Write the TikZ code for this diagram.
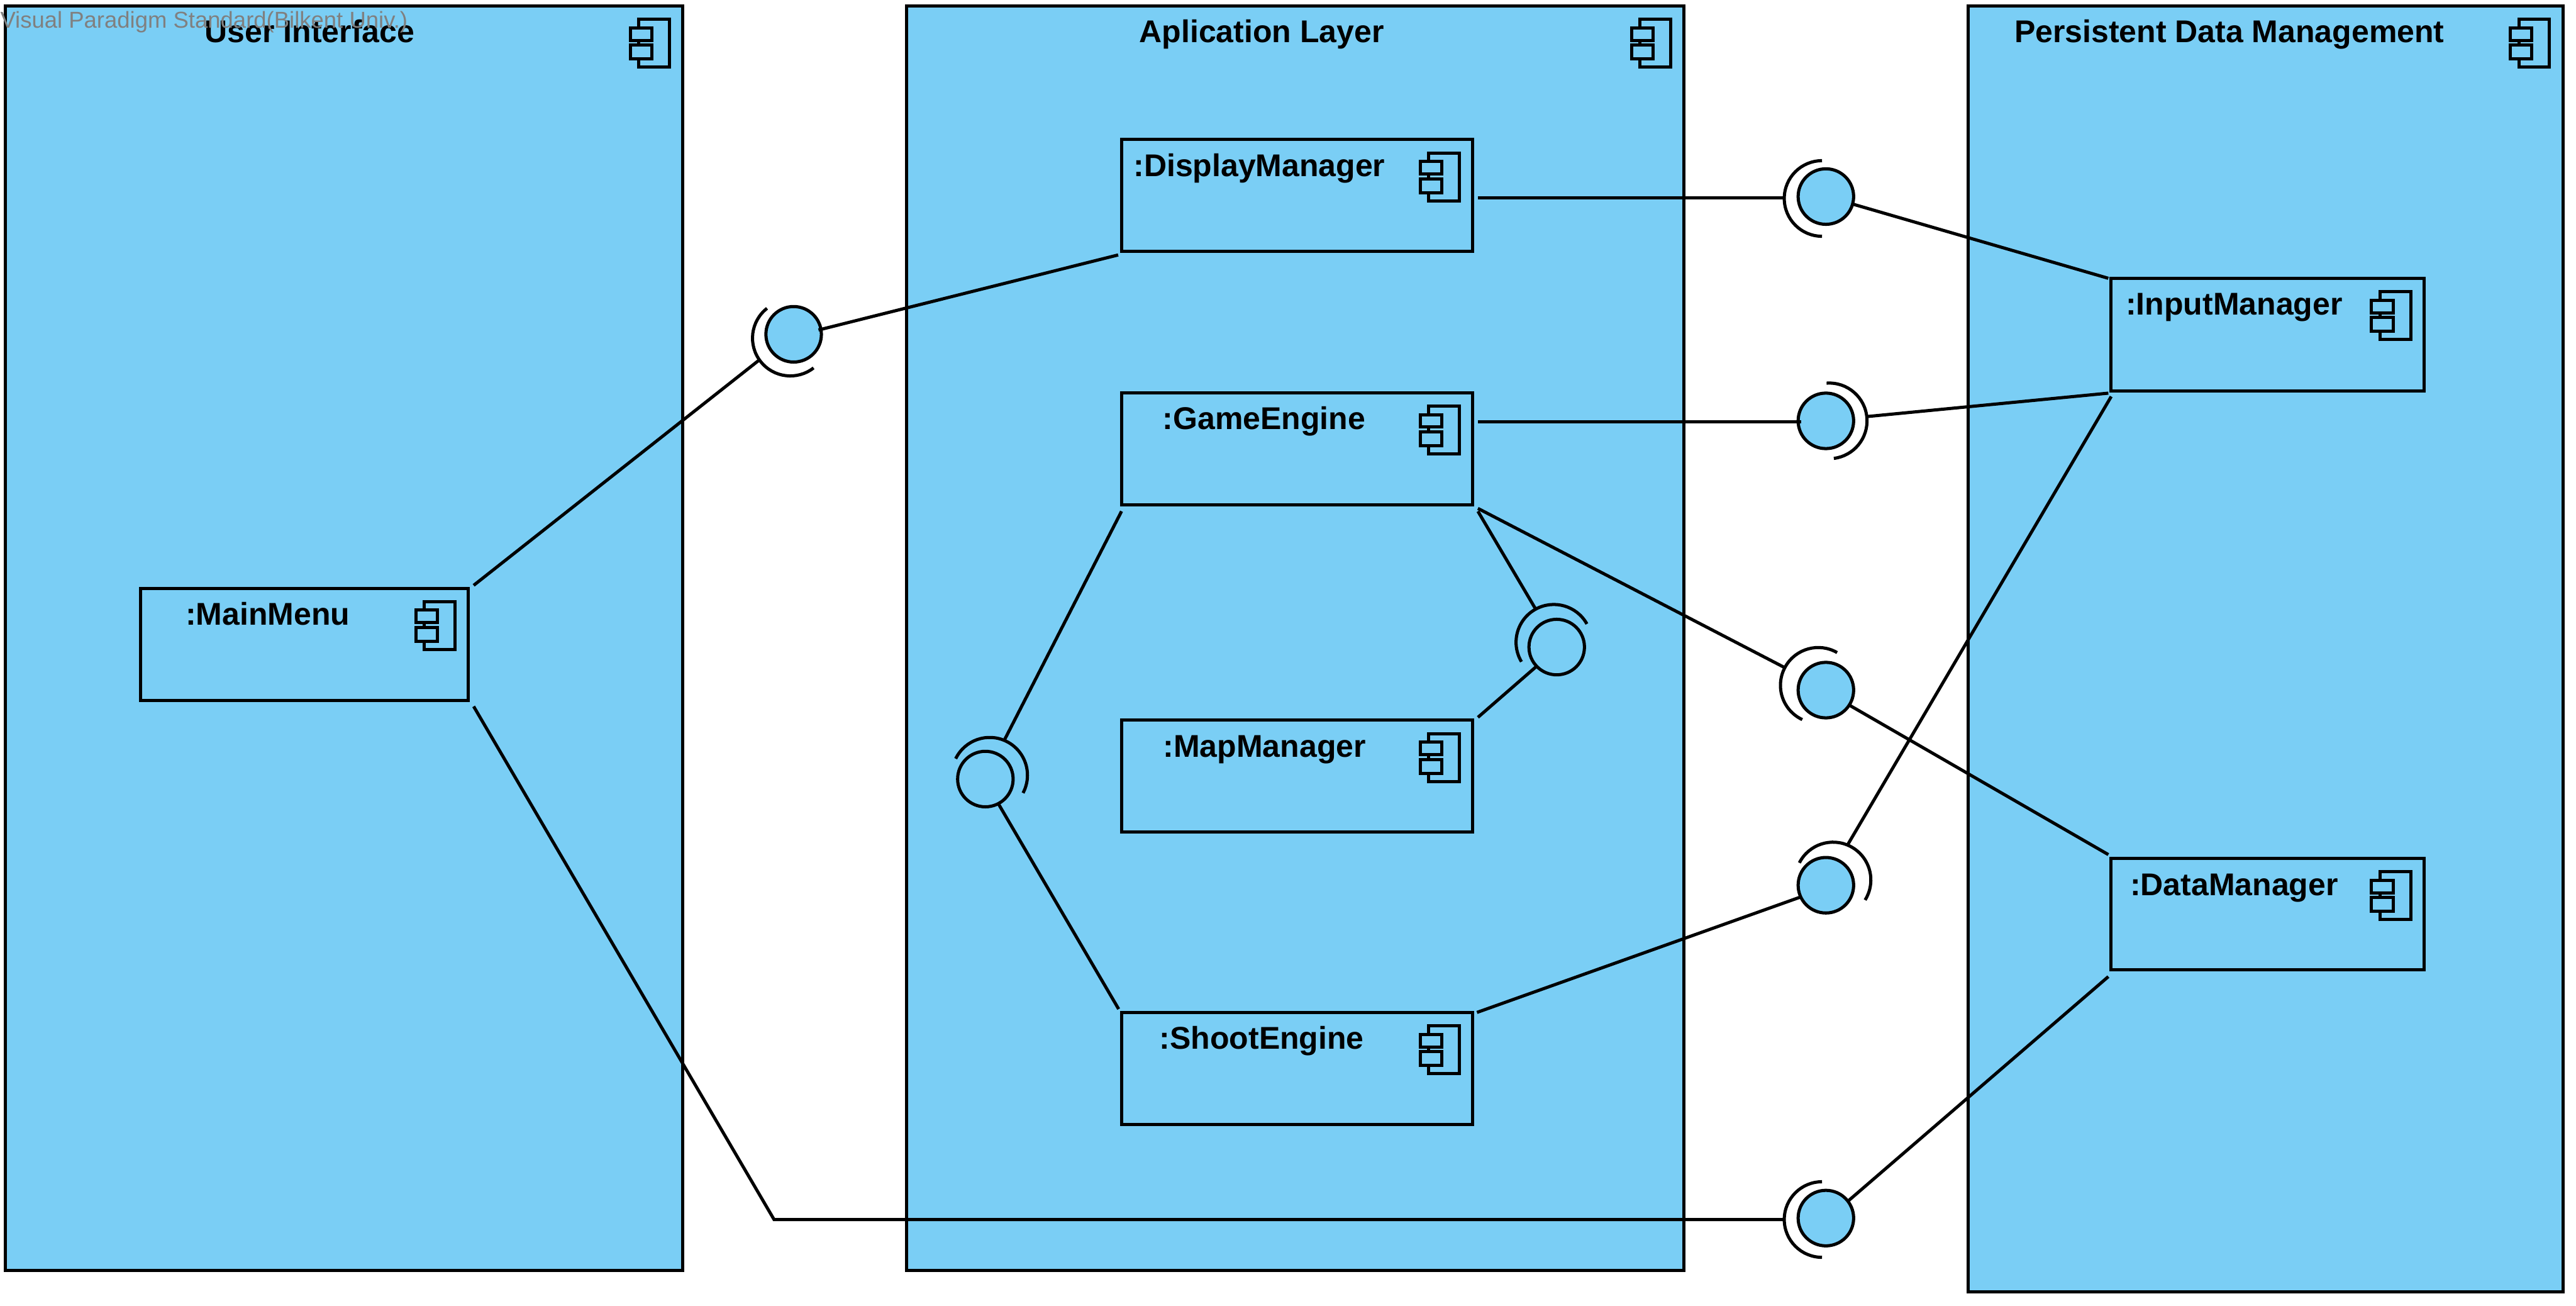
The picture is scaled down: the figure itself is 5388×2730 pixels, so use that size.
\documentclass[tikz,border=0pt]{standalone}
\usepackage{fontspec}
\setmainfont{Liberation Sans}
\definecolor{vpblue}{RGB}{122,206,245}
\definecolor{vpgray}{RGB}{128,128,128}
\tikzset{
  x=0.01cm,y=-0.01cm,
  ink/.style={draw=black,line width=0.066cm},
  compbox/.style={ink,fill=vpblue,rectangle,inner sep=0pt,outer sep=0pt},
  ball/.style={ink,circle,fill=vpblue,minimum size=1.16cm,inner sep=0pt,outer sep=0pt},
  conn/.style={ink,line cap=butt},
  captxt/.style={font=\fontsize{18.7}{22}\selectfont\bfseries,inner sep=0pt,anchor=base,text=black}
}
% component glyph, hung from a box's north east corner
\newcommand{\compicon}[1]{%
  \draw[ink] ([shift={(-92,28)}]#1.north east) rectangle ([shift={(-28,128)}]#1.north east);
  \draw[ink,fill=vpblue] ([shift={(-110,46)}]#1.north east) rectangle ([shift={(-65,72)}]#1.north east);
  \draw[ink,fill=vpblue] ([shift={(-110,82)}]#1.north east) rectangle ([shift={(-65,111)}]#1.north east);
}
% socket arc: name, centre x, centre y, start angle, end angle
\newcommand{\socket}[5]{%
  \coordinate (#1) at (#2,#3);
  \draw[ink] (#1) ++(#4:0.79cm) arc[start angle=#4,end angle=#5,radius=0.79cm];
}
\begin{document}
\begin{tikzpicture}
\useasboundingbox (0,0) rectangle (5388,2730);
% containers
\node[compbox,minimum width=14.16cm,minimum height=26.43cm] (ui) at (720,1334.5) {};
\node[compbox,minimum width=16.25cm,minimum height=26.43cm] (app) at (2709.5,1334.5) {};
\node[compbox,minimum width=12.43cm,minimum height=26.87cm] (pdm) at (4738.5,1356.5) {};
\compicon{ui}\compicon{app}\compicon{pdm}
\node[captxt] (uit) at (648,89) {User Interface};
\node[captxt] (appt) at (2639,89) {Aplication Layer};
\node[captxt] (pdmt) at (4663,89) {Persistent Data Management};
% components
\node[compbox,minimum width=7.34cm,minimum height=2.34cm] (disp) at (2713,409) {};
\node[compbox,minimum width=7.34cm,minimum height=2.34cm] (game) at (2713,938) {};
\node[compbox,minimum width=7.34cm,minimum height=2.34cm] (map) at (2713,1623) {};
\node[compbox,minimum width=7.34cm,minimum height=2.34cm] (shoot) at (2713,2234) {};
\node[compbox,minimum width=6.85cm,minimum height=2.34cm] (menu) at (637,1347) {};
\node[compbox,minimum width=6.54cm,minimum height=2.35cm] (input) at (4743,699.5) {};
\node[compbox,minimum width=6.54cm,minimum height=2.33cm] (data) at (4743,1911.5) {};
\foreach \c in {disp,game,map,shoot,menu,input,data}{\compicon{\c}}
\node[captxt] (dispt) at (2634,369) {:DisplayManager};
\node[captxt] (gamet) at (2644,898) {:GameEngine};
\node[captxt] (mapt) at (2645,1583) {:MapManager};
\node[captxt] (shoott) at (2639,2194) {:ShootEngine};
\node[captxt] (menut) at (560,1307) {:MainMenu};
\node[captxt] (inputt) at (4673,659) {:InputManager};
\node[captxt] (datat) at (4673,1872) {:DataManager};
% lollipops
\node[ball] (bA) at (1660,699) {};
\node[ball] (b1) at (3819,411) {};
\node[ball] (b2) at (3819,880) {};
\node[ball] (b3) at (3819,1443) {};
\node[ball] (b4) at (3819,1851) {};
\node[ball] (b5) at (3819,2547) {};
\node[ball] (bL) at (2061,1629) {};
\node[ball] (bM) at (3256,1353) {};
\socket{sA}{1653}{707}{128}{308}
\socket{s1}{3811}{415}{90}{270}
\socket{s2}{3826}{880}{94}{-83}
\socket{s3}{3803}{1433}{60}{245}
\socket{s4}{3834}{1840}{153}{-32}
\socket{s5}{3811}{2550}{90}{270}
\socket{sL}{2070}{1621}{154}{-28}
\socket{sM}{3250}{1343}{29}{211}
% connectors
\coordinate (bend) at (1619,2550);
\draw[conn] ([shift={(11,-6)}]menu.north east) -- ([shift={(-64,45)}]sA.center);
\draw[conn] ([shift={(11,13)}]menu.south east) -- (bend) -- ([shift={(-81,0)}]s5.center);
\draw[conn] ([shift={(52,-9)}]bA.center) -- ([shift={(-7,7)}]disp.south west);
\draw[conn] ([shift={(11,5)}]disp.east) -- ([shift={(-80,-1)}]s1.center);
\draw[conn] ([shift={(57,16)}]b1.center) -- ([shift={(-6,0)}]input.north west);
\draw[conn] ([shift={(11,-56)}]game.east) -- ([shift={(-52,2)}]b2.center);
\draw[conn] ([shift={(79,-9)}]s2.center) -- ([shift={(-6,5)}]input.south west);
\draw[conn] ([shift={(11,8)}]game.south east) -- ([shift={(-70,-37)}]s3.center);
\draw[conn] ([shift={(50,32)}]b3.center) -- ([shift={(-6,-8)}]data.north west);
\draw[conn] ([shift={(9,0)}]shoot.north east) -- ([shift={(-54,25)}]b4.center);
\draw[conn] ([shift={(29,-71)}]s4.center) -- ([shift={(0,12)}]input.south west);
\draw[conn] ([shift={(-6,14)}]data.south west) -- ([shift={(48,-37)}]b5.center);
\draw[conn] ([shift={(11,14)}]game.south east) -- ([shift={(-39,-71)}]sM.center);
\draw[conn] ([shift={(11,-6)}]map.north east) -- ([shift={(-43,41)}]bM.center);
\draw[conn] ([shift={(0,14)}]game.south west) -- ([shift={(31,-74)}]sL.center);
\draw[conn] ([shift={(28,53)}]bL.center) -- ([shift={(-6,-7)}]shoot.north west);
% watermark
\node[font=\fontsize{13.65}{16}\selectfont,text=vpgray,inner sep=0pt,anchor=base west] (wm) at (0,59) {Visual Paradigm Standard(Bilkent Univ.)};
\end{tikzpicture}
\end{document}
